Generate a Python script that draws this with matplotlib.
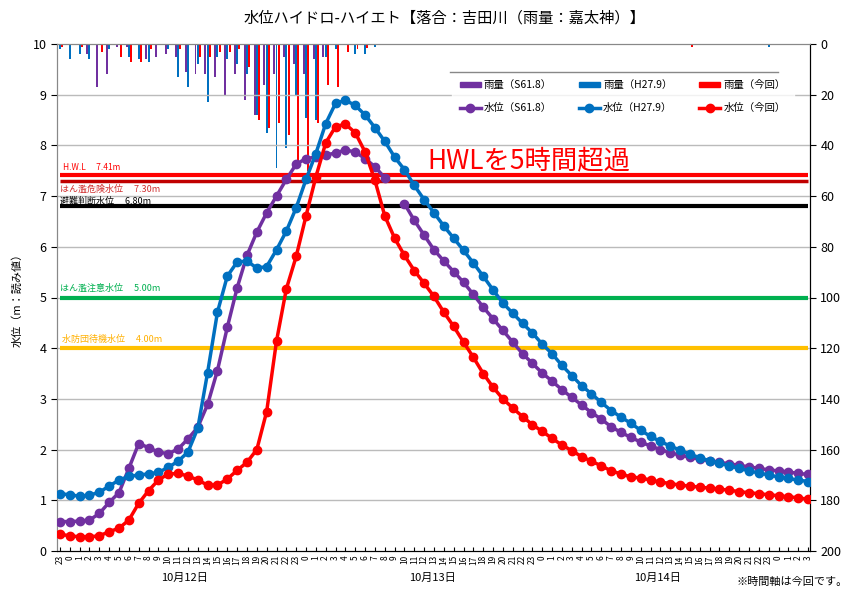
import numpy as np
import matplotlib
matplotlib.use("Agg")
import matplotlib.pyplot as plt
from matplotlib.lines import Line2D
from matplotlib.patches import Patch

plt.rcParams['font.family'] = ['Noto Sans CJK JP', 'DejaVu Sans']

# hour labels (23 on 10/11 ... 3 on 10/15)
hours = [23] + list(range(24)) * 3 + [0, 1, 2, 3]
dates = ['10月12日', '10月13日', '10月14日']

# water level (m)
level_s61 = [0.58, 0.58, 0.59, 0.61, 0.74, 0.96, 1.15, 1.63, 2.12, 2.04, 1.95, 1.92, 2.01, 2.21, 2.44, 2.89, 3.56, 4.41, 5.19, 5.83, 6.29, 6.67,
             7.00, 7.33, 7.63, 7.74, 7.77, 7.81, 7.85, 7.91, 7.87, 7.74, 7.58, 7.36, np.nan, 6.85, 6.52, 6.23, 5.94, 5.72, 5.51, 5.30,
             5.06, 4.81, 4.58, 4.35, 4.12, 3.89, 3.70, 3.51, 3.35, 3.18, 3.03, 2.88, 2.73, 2.60, 2.45, 2.34, 2.24, 2.15,
             2.07, 2.00, 1.94, 1.89, 1.85, 1.81, 1.78, 1.75, 1.72, 1.69, 1.66, 1.63, 1.60, 1.58, 1.56, 1.53, 1.51]
level_h27 = [1.13, 1.11, 1.08, 1.10, 1.16, 1.28, 1.40, 1.47, 1.50, 1.52, 1.55, 1.65, 1.77, 1.95, 2.42, 3.52, 4.71, 5.42, 5.70, 5.72, 5.58, 5.61,
             5.94, 6.31, 6.77, 7.33, 7.84, 8.43, 8.83, 8.89, 8.79, 8.60, 8.35, 8.08, 7.77, 7.52, 7.21, 6.93, 6.67, 6.41, 6.17, 5.93,
             5.68, 5.42, 5.15, 4.89, 4.69, 4.49, 4.30, 4.08, 3.89, 3.66, 3.46, 3.26, 3.10, 2.93, 2.77, 2.64, 2.52, 2.38,
             2.26, 2.16, 2.07, 1.99, 1.91, 1.84, 1.78, 1.73, 1.68, 1.63, 1.58, 1.54, 1.50, 1.46, 1.43, 1.40, 1.37]
level_now = [0.33, 0.30, 0.28, 0.28, 0.30, 0.38, 0.45, 0.61, 0.94, 1.19, 1.40, 1.52, 1.53, 1.48, 1.40, 1.30, 1.30, 1.42, 1.59, 1.75, 2.00, 2.75,
             4.14, 5.17, 5.81, 6.61, 7.38, 8.05, 8.37, 8.42, 8.25, 7.87, 7.31, 6.61, 6.17, 5.83, 5.53, 5.28, 5.02, 4.71, 4.43, 4.12,
             3.82, 3.50, 3.23, 3.00, 2.82, 2.65, 2.49, 2.36, 2.22, 2.09, 1.98, 1.86, 1.77, 1.68, 1.58, 1.52, 1.46, 1.44,
             1.40, 1.36, 1.33, 1.30, 1.28, 1.26, 1.24, 1.22, 1.20, 1.17, 1.15, 1.13, 1.11, 1.09, 1.07, 1.05, 1.02]

# rainfall (mm/h)
rain_s61 = [0, 0, 0, 4, 17, 12, 1, 1, 0, 6, 5, 4, 5, 11, 12, 12, 13, 20, 12, 22, 28, 16,
            12, 5, 8, 12, 6, 5, 0, 0, 0, 0, 0, 0] + [0] * 43
rain_h27 = [2, 6, 4, 6, 0, 2, 0, 5, 6, 7, 0, 2, 13, 17, 8, 23, 5, 6, 8, 12, 28, 35,
            49, 41, 20, 29, 30, 5, 2, 0, 4, 4, 1, 0] + [0] * 43
rain_now = [1, 0, 1, 0, 3, 0, 5, 7, 7, 2, 0, 0, 2, 0, 5, 5, 3, 3, 2, 9, 30, 33,
            31, 36, 46, 50, 31, 16, 17, 3, 2, 1.5, 0, 0] + [0] * 43
rain_now[64] = 1
rain_h27[72] = 1

# threshold levels
th_vals = [7.41, 7.30, 6.80, 5.00, 4.00]
th_names = ['H.W.L\u3000 7.41m', 'はん濫危険水位\u3000 7.30m', '避難判断水位\u3000 6.80m',
            'はん濫注意水位\u3000 5.00m', '水防団待機水位\u3000 4.00m']
th_colors = ['#FF0000', '#C00000', '#000000', '#00B050', '#FFC000']
th_text_colors = ['#FF0000', '#D03030', '#000000', '#00B050', '#FFB000']

purple = '#7030A0'
blue = '#0070C0'
red = '#FF0000'

x = np.arange(len(hours))

fig = plt.figure(figsize=(8.52, 5.90), dpi=100)
ax = fig.add_axes([57 / 852, 39 / 590, 753 / 852, 507 / 590])
ax2 = ax.twinx()

# rain bars on the right axis (inverted)
bw = 0.2
ax2.bar(x - 0.23, rain_s61, bw, color=purple, zorder=2)
ax2.bar(x, rain_h27, bw, color=blue, zorder=2)
ax2.bar(x + 0.23, rain_now, bw, color=red, zorder=2)
ax2.set_ylim(200, 0)
ax2.set_yticks(range(0, 201, 20))
ax2.tick_params(axis='y', labelsize=9, length=4)

ax.set_zorder(ax2.get_zorder() + 1)
ax.patch.set_visible(False)

for v in range(1, 10):
    ax.axhline(v, color='#BBBBBB', lw=1, zorder=0)

for v, c in zip(th_vals, th_colors):
    ax.plot([x[0], x[-1]], [v, v], color=c, lw=3 if v != 7.30 else 2.5, zorder=3, solid_capstyle='butt')

ax.text(0.3, 7.52, th_names[0], color=th_text_colors[0], fontsize=6)
ax.text(0.0, 7.08, th_names[1], color=th_text_colors[1], fontsize=6.5)
ax.text(0.0, 6.84, th_names[2], color=th_text_colors[2], fontsize=6.5)
ax.text(0.0, 5.13, th_names[3], color=th_text_colors[3], fontsize=6.5)
ax.text(0.2, 4.13, th_names[4], color=th_text_colors[4], fontsize=6.5)

ax.text(37.3, 7.55, 'HWLを5時間超過', color=red, fontsize=19)

ms = 6
ax.plot(x, level_s61, color=purple, lw=2.5, marker='o', ms=ms, zorder=5)
ax.plot(x, level_h27, color=blue, lw=2.5, marker='o', ms=ms, zorder=5)
ax.plot(x, level_now, color=red, lw=2.5, marker='o', ms=ms, zorder=6)

ax.set_xlim(-0.3, 76.2)
ax.set_ylim(0, 10)
ax.set_yticks(range(0, 11))
ax.tick_params(axis='y', labelsize=9, length=4)
ax.set_xticks(x)
ax.set_xticklabels([str(h) for h in hours], rotation=90, fontsize=6)
ax.tick_params(axis='x', direction='in', length=3, pad=3)
ax.set_ylabel('水位（m：読み値）', fontsize=8, labelpad=7)

for s in ['left', 'top']:
    ax.spines[s].set_color('#888888')
    ax2.spines[s].set_color('#888888')

handles = [Patch(color=purple), Line2D([], [], color=purple, lw=2.5, marker='o', ms=6),
           Patch(color=blue), Line2D([], [], color=blue, lw=2.5, marker='o', ms=6),
           Patch(color=red), Line2D([], [], color=red, lw=2.5, marker='o', ms=6)]
labels = ['雨量（S61.8）', '水位（S61.8）', '雨量（H27.9）', '水位（H27.9）', '雨量（今回）', '水位（今回）']
leg = ax.legend(handles, labels, ncol=3, loc='upper left', bbox_to_anchor=(0.524, 0.945),
                fontsize=7.5, frameon=True, fancybox=False, edgecolor='white',
                handlelength=2.0, handleheight=0.5, handletextpad=0.3, columnspacing=2.6,
                labelspacing=1.25, borderaxespad=0, borderpad=0.8)
leg.get_frame().set_facecolor('white')
leg.set_zorder(8)
ax.add_line(Line2D([0.522, 0.957], [0.945, 0.945], transform=ax.transAxes, color='#888888', lw=1, zorder=9))

fig.text(445 / 852, 1 - 18 / 590, '水位ハイドロ-ハイエト【落合：吉田川（雨量：嘉太神）】',
         ha='center', va='center', fontsize=11)
for d, xp in zip(dates, [185, 432, 658]):
    fig.text(xp / 852, 1 - 578 / 590, d, ha='center', va='center', fontsize=8)
fig.text(848 / 852, 1 - 582 / 590, '※時間軸は今回です。', ha='right', va='center', fontsize=8)

fig.savefig('out.png', dpi=100)
